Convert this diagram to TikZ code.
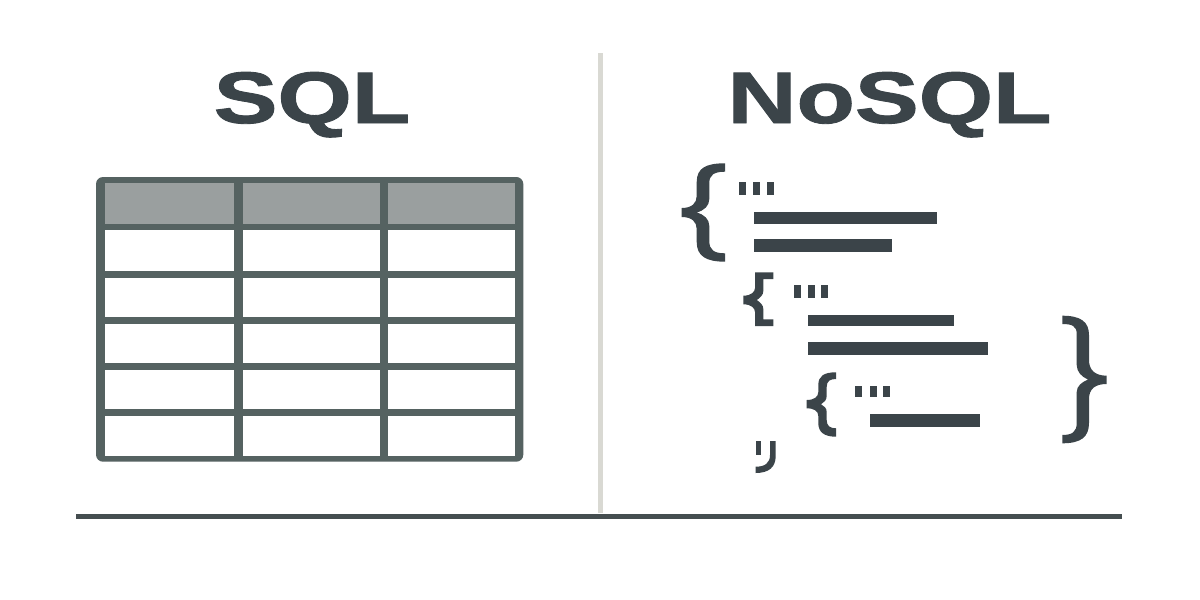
\documentclass[tikz,border=0pt]{standalone}
\usepackage{fontspec}
\usepackage{graphicx}
\setmainfont{Liberation Sans}
\newfontfamily\titlefont[FakeBold=1.2]{Liberation Sans Bold}
\definecolor{ink}{HTML}{3B4449}
\definecolor{frame}{HTML}{556261}
\definecolor{headfill}{HTML}{9A9F9F}
\definecolor{divider}{HTML}{D9D9D3}
\definecolor{rulecol}{HTML}{454E50}
\tikzset{
  title/.style={text=ink,inner sep=0pt,anchor=base,font=\fontsize{73}{73}\titlefont},
  inkfill/.style={fill=ink},
  cell/.style={fill=white},
  headcell/.style={fill=headfill}
}
\begin{document}
\begin{tikzpicture}[x=1pt,y=-1pt]
\useasboundingbox (0,0) rectangle (1200,600);
\fill[white] (0,0) rectangle (1200,600);
% divider and base rule
\fill[divider] (597.5,53) rectangle (602.5,513);
\fill[rulecol] (76,514) rectangle (1122,519);
% titles
\node[title] (sql) at (312,123) {\scalebox{1.31}[1]{SQL}};
\node[title] (nosql) at (889.5,123) {\scalebox{1.31}[1]{NoSQL}};
% table
\fill[frame,rounded corners=7pt] (96,177) rectangle (523.3,461.7);
\foreach \a/\b in {105/234,243/379.5,388/515}{
  \fill[headcell] (\a,183) rectangle (\b,224);
  \foreach \c/\d in {230/271,278/317,324/363,370/409,416/455.7}
    \fill[cell] (\a,\c) rectangle (\b,\d);
}
% big left brace
\fill[inkfill] (725,163.3) .. controls (706,163.3) and (696.7,168) .. (696.7,182) -- (696.7,196)
  .. controls (696.7,203) and (692,208) .. (681.7,208) -- (681.7,217)
  .. controls (692,217) and (696.7,222) .. (696.7,229) -- (696.7,242)
  .. controls (696.7,256) and (706,261.7) .. (725,261.7) -- (725,253.3)
  .. controls (714,253.3) and (709.3,250) .. (709.3,241) -- (709.3,226)
  .. controls (709.3,219) and (704,214.5) .. (696.7,212.5)
  .. controls (704,210.5) and (709.3,206) .. (709.3,199) -- (709.3,183)
  .. controls (709.3,175) and (714,171.7) .. (725,171.7) -- cycle;
% small brace 1
\fill[inkfill] (773.3,272.3) -- (755,272.3) -- (755,288)
  .. controls (755,292) and (751,295.7) .. (743.3,295.7) -- (743.3,304.3)
  .. controls (751,304.3) and (755,308) .. (755,312) -- (755,326)
  -- (773.3,326) -- (773.3,319.3) -- (763.3,319.3) -- (763.3,309)
  .. controls (763.3,305) and (760,302) .. (756.7,300)
  .. controls (760,298) and (763.3,295) .. (763.3,291) -- (763.3,279)
  -- (773.3,279) -- cycle;
% small brace 2
\fill[inkfill] (836,372.3) .. controls (824,372.3) and (818.3,376) .. (818.3,385) -- (818.3,392)
  .. controls (818.3,397) and (814,400) .. (806.7,400) -- (806.7,408.3)
  .. controls (814,408.3) and (818.3,411) .. (818.3,416) -- (818.3,423)
  .. controls (818.3,432) and (824,436.7) .. (836,436.7) -- (836,428.3)
  .. controls (830,428.3) and (826.7,426) .. (826.7,420) -- (826.7,412)
  .. controls (826.7,408) and (824,406) .. (821,404.3)
  .. controls (824,402.5) and (826.7,400) .. (826.7,396) -- (826.7,387)
  .. controls (826.7,381) and (830,379) .. (836,379) -- cycle;
% big right brace
\fill[inkfill] (1062.3,315.7) .. controls (1081,315.7) and (1089,322) .. (1089,335) -- (1089,360)
  .. controls (1089,370) and (1095,375.7) .. (1106.7,375.7) -- (1106.7,384)
  .. controls (1095,384) and (1089,389) .. (1089,399) -- (1089,423)
  .. controls (1089,437) and (1081,443.3) .. (1062.3,443.3) -- (1062.3,435)
  .. controls (1072,435) and (1076.7,432) .. (1076.7,423) -- (1076.7,392)
  .. controls (1076.7,386) and (1082,382) .. (1088,379.5)
  .. controls (1082,377) and (1076.7,372) .. (1076.7,365) -- (1076.7,334)
  .. controls (1076.7,326) and (1072,324) .. (1062.3,324) -- cycle;
% closing mark
\fill[inkfill] (755.7,441) rectangle (761,455);
\fill[inkfill] (770,441) -- (775.7,441) -- (775.7,456)
  .. controls (775.7,467) and (769,473) .. (755.7,473) -- (755.7,466.7)
  .. controls (765,466.7) and (770,463) .. (770,455) -- cycle;
% bars
\fill[inkfill] (754,212) rectangle (937,224);
\fill[inkfill] (754,239) rectangle (892,252);
\fill[inkfill] (808,315) rectangle (954,326);
\fill[inkfill] (808,342) rectangle (988,354.5);
\fill[inkfill] (870,414) rectangle (980,427);
% dots
\foreach \x in {739,753,767} \fill[inkfill] (\x,182) rectangle (\x+7,195);
\foreach \x in {794,808,821} \fill[inkfill] (\x,285) rectangle (\x+7,298);
\foreach \x in {855,870,883} \fill[inkfill] (\x,386) rectangle (\x+6.5,397);
\end{tikzpicture}
\end{document}
